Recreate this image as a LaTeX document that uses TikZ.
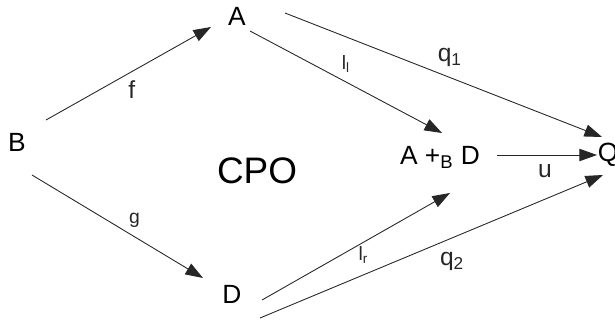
\documentclass[tikz,border=0pt]{standalone}
\usepackage{fontspec}
\setmainfont{Liberation Sans}
\usetikzlibrary{arrows.meta}

\begin{document}
\begin{tikzpicture}[
    x=0.02cm, y=-0.02cm,
    obj/.style={inner sep=0pt, font=\fontsize{15}{18}\selectfont},
    lbl/.style={inner sep=2pt, font=\fontsize{14}{17}\selectfont},
    tiny/.style={inner sep=2pt, font=\fontsize{11}{13}\selectfont},
    line/.style={-{Triangle[length=10pt,width=7pt]}, line width=0.5pt, black!85}
]
\useasboundingbox (0,0) rectangle (615,321);
\node[obj] (B) at (17,142) {B};
\node[obj] (A) at (237,16) {A};
\node[obj] (D) at (232,294) {D};
\node[obj] (push) at (440,157) {A +\textsubscript{B} D};
\node[obj] (Q) at (608,155) {Q};
\node[font=\fontsize{21}{25}\selectfont] (cpo) at (257,171) {CPO};

\draw[line] ([shift={(29,-22)}]B.center) -- node[lbl, pos=0.52, below=3pt] {f} ([shift={(-26,11)}]A.center);
\draw[line] ([shift={(15,33)}]B.center) -- node[tiny, pos=0.6, above=3pt] {g} ([shift={(-29,-16)}]D.center);
\draw[line] ([shift={(13,15)}]A.center) -- node[tiny, pos=0.5, above=3pt] {l\textsubscript{l}} ([shift={(2,-24)}]push.center);
\draw[line] ([shift={(48,-3)}]A.center) -- node[lbl, pos=0.52, above=4pt] {q\textsubscript{1}} ([shift={(-6,-18)}]Q.center);
\draw[line] ([shift={(57,-2)}]push.center) -- node[lbl, pos=0.48, below=3pt] {u} ([shift={(-11,0)}]Q.center);
\draw[line] ([shift={(30,6)}]D.center) -- node[tiny, pos=0.54, below=0pt] {l\textsubscript{r}} ([shift={(10,36)}]push.center);
\draw[line] ([shift={(28,24)}]D.center) -- node[lbl, pos=0.56, below=6pt] {q\textsubscript{2}} ([shift={(-5,20)}]Q.center);
\end{tikzpicture}
\end{document}
